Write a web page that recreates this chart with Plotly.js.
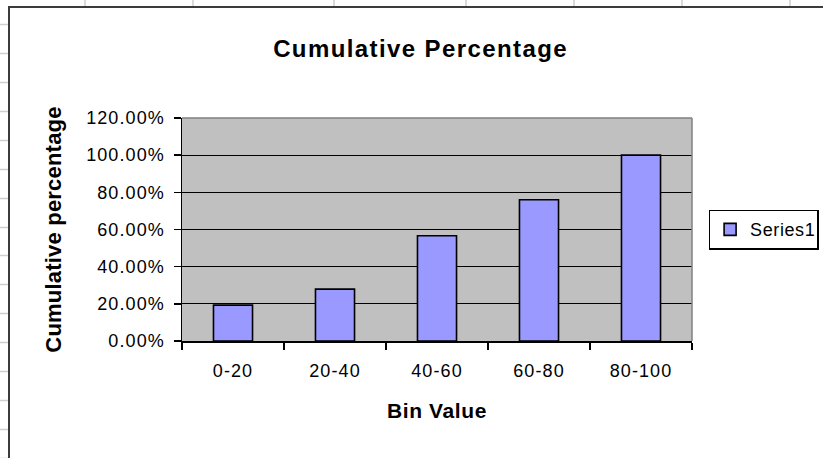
<!DOCTYPE html>
<html>
<head>
<meta charset="utf-8">
<script src="https://cdn.plot.ly/plotly-3.0.1.min.js"></script>
<style>
  html, body { margin: 0; padding: 0; background: #ffffff; }
  #page { position: relative; width: 823px; height: 458px; overflow: hidden; }
  #sheet { position: absolute; left: 0; top: 0; width: 823px; height: 458px; }
  #frame {
    position: absolute; left: 8px; top: 6px; width: 830px; height: 450px;
    border: 2px solid #3c3c3c; background: #ffffff;
  }
  #chart { position: absolute; left: 0; top: 0; width: 823px; height: 458px; }
  #chart .xtick text, #chart .ytick text { letter-spacing: 1.1px; }
  #chart .gtitle { letter-spacing: 1.4px; }
  #chart .xtitle { letter-spacing: 0.6px; }
  #chart .ytitle { letter-spacing: 0.2px; }
  #chart .legendtext { letter-spacing: 0.6px; }
</style>
</head>
<body>
<div id="page">
  <svg id="sheet" width="823" height="458"></svg>
  <div id="frame"></div>
  <div id="chart"></div>
</div>
<script>
// Frequency bins and their cumulative share of all observations
const binLabels = ['0-20', '20-40', '40-60', '60-80', '80-100'];
const cumulativeShare = [0.193, 0.279, 0.566, 0.760, 1.000];
const seriesName = 'Series1';

const chartTitle = 'Cumulative Percentage';
const xTitle = 'Bin Value';
const yTitle = 'Cumulative percentage';

// Worksheet cell borders showing around the embedded chart
const sheetColumnEdges = [85, 193, 334, 466, 574, 682, 790];
const sheetRowFirst = 24;
const sheetRowHeight = 28.93;

(function drawSheet() {
  const svg = document.getElementById('sheet');
  const ns = 'http://www.w3.org/2000/svg';
  const addLine = (x1, y1, x2, y2) => {
    const l = document.createElementNS(ns, 'line');
    l.setAttribute('x1', x1); l.setAttribute('y1', y1);
    l.setAttribute('x2', x2); l.setAttribute('y2', y2);
    l.setAttribute('stroke', '#cfcfcf'); l.setAttribute('stroke-width', '1.5');
    svg.appendChild(l);
  };
  sheetColumnEdges.forEach(x => addLine(x, 0, x, 458));
  for (let y = sheetRowFirst; y < 458; y += sheetRowHeight) addLine(0, Math.round(y) + 0.5, 823, Math.round(y) + 0.5);
})();

const baseFont = { family: 'Liberation Sans, Arial, sans-serif', color: '#000000' };

const trace = {
  type: 'bar',
  name: seriesName,
  x: binLabels,
  y: cumulativeShare,
  marker: { color: '#9999ff', line: { color: '#000000', width: 1.6 } },
  hoverinfo: 'x+y'
};

const layout = {
  width: 823,
  height: 458,
  margin: { l: 182, r: 131, t: 118, b: 117, pad: 0 },
  paper_bgcolor: 'rgba(0,0,0,0)',
  plot_bgcolor: '#c0c0c0',
  font: Object.assign({ size: 18 }, baseFont),
  bargap: 0.617,
  showlegend: true,
  title: {
    text: chartTitle,
    font: Object.assign({ size: 24, weight: 700 }, baseFont),
    xref: 'container', x: 0.511, xanchor: 'center',
    yref: 'container', y: 0.893, yanchor: 'middle'
  },
  legend: {
    xref: 'container', x: 0.861, xanchor: 'left',
    yref: 'container', y: 0.4985, yanchor: 'middle',
    bgcolor: '#ffffff', bordercolor: '#000000', borderwidth: 1.5,
    font: Object.assign({ size: 18 }, baseFont),
    itemwidth: 30, tracegroupgap: 0
  },
  xaxis: {
    type: 'category',
    tickson: 'boundaries',
    ticks: 'outside', ticklen: 7, tickwidth: 1.5, tickcolor: '#000000',
    showline: true, linecolor: '#000000', linewidth: 1.5,
    showgrid: false, zeroline: false,
    tickfont: Object.assign({ size: 18 }, baseFont),
    ticklabelstandoff: 13,
    title: { text: xTitle, font: Object.assign({ size: 21, weight: 700 }, baseFont), standoff: 23 }
  },
  yaxis: {
    range: [0, 1.2],
    dtick: 0.2,
    tickformat: '.2%',
    ticks: 'outside', ticklen: 7, tickwidth: 1.5, tickcolor: '#000000',
    showline: true, linecolor: '#000000', linewidth: 1.5,
    showgrid: true, gridcolor: '#000000', gridwidth: 1.2,
    zeroline: false,
    tickfont: Object.assign({ size: 18 }, baseFont),
    ticklabelstandoff: 5,
    title: { text: yTitle, font: Object.assign({ size: 22, weight: 700 }, baseFont), standoff: 26 }
  },
  shapes: [
    { type: 'line', xref: 'paper', yref: 'paper', x0: 0, x1: 1, y0: 1, y1: 1,
      line: { color: '#808080', width: 1.5 }, layer: 'above' },
    { type: 'line', xref: 'paper', yref: 'paper', x0: 1, x1: 1, y0: 0, y1: 1,
      line: { color: '#808080', width: 1.5 }, layer: 'above' }
  ]
};

Plotly.newPlot('chart', [trace], layout, { displayModeBar: false, staticPlot: true });
</script>
</body>
</html>
